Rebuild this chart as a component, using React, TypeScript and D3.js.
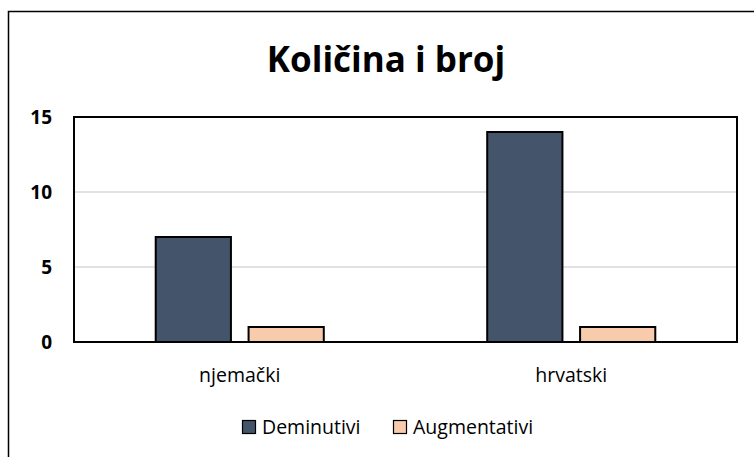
import React from "react";
import * as d3 from "d3";

const categories = ["njemački", "hrvatski"];
const seriesNames = ["Deminutivi", "Augmentativi"];
const deminutivi = [7, 14];
const augmentativi = [1, 1];
const yTicks = [0, 5, 10, 15];
const colors = ["#44546A", "#F8CBAD"];

const W = 754;
const H = 457;
const margin = { top: 117, right: 17, bottom: 115, left: 74 };
const font = "'Open Sans', 'Noto Sans', sans-serif";

export default function App() {
  const innerW = W - margin.left - margin.right;
  const innerH = H - margin.top - margin.bottom;

  // grouped bars: outer band per category, inner band per series
  const x0 = d3.scaleBand().domain(categories).range([0, innerW]).paddingInner(0.493).paddingOuter(0.2465);
  const x1 = d3.scaleBand().domain(seriesNames).range([0, x0.bandwidth()]).paddingInner(0.19);
  const y = d3.scaleLinear().domain([0, 15]).range([innerH, 0]);

  const values = [deminutivi, augmentativi];

  return (
    <div style={{ position: "absolute", left: 0, top: 0 }}>
      <svg width={W} height={H} style={{ display: "block", background: "#fff" }}>
        <rect x={8.5} y={11.5} width={W} height={H} fill="#fff" stroke="#000" strokeWidth={1.5} />
        <text x={386} y={72} textAnchor="middle" fontFamily={font} fontWeight="bold" fontSize={35} fill="#000">
          Količina i broj
        </text>
        <g transform={`translate(${margin.left},${margin.top})`}>
          {yTicks.slice(1, -1).map((t) => (
            <line key={t} x1={0} x2={innerW} y1={y(t)} y2={y(t)} stroke="#D9D9D9" strokeWidth={1.5} />
          ))}
          {yTicks.map((t) => (
            <text key={"l" + t} x={-22} y={y(t)} dy="0.35em" textAnchor="end" fontFamily={font} fontWeight="bold" fontSize={19} fill="#000">
              {t}
            </text>
          ))}
          {categories.map((c, ci) => (
            <g key={c} transform={`translate(${x0(c)},0)`}>
              {seriesNames.map((s, si) => (
                <rect
                  key={s}
                  x={x1(s)}
                  y={y(values[si][ci])}
                  width={x1.bandwidth()}
                  height={innerH - y(values[si][ci])}
                  fill={colors[si]}
                  stroke="#000"
                  strokeWidth={2}
                />
              ))}
              <text x={x0.bandwidth() / 2} y={innerH + 40} textAnchor="middle" fontFamily={font} fontSize={19.5} fill="#000">
                {c}
              </text>
            </g>
          ))}
          <rect x={0} y={0} width={innerW} height={innerH} fill="none" stroke="#000" strokeWidth={2} />
        </g>
        <g transform={`translate(242,420)`}>
          {seriesNames.map((s, i) => {
            const off = i === 0 ? 0 : 151;
            return (
              <g key={s} transform={`translate(${off},0)`}>
                <rect x={0.5} y={0.5} width={13} height={13} fill={colors[i]} stroke="#000" strokeWidth={1.2} />
                <text x={20} y={7} dy="0.35em" fontFamily={font} fontSize={19.5} fill="#000">
                  {s}
                </text>
              </g>
            );
          })}
        </g>
      </svg>
    </div>
  );
}
